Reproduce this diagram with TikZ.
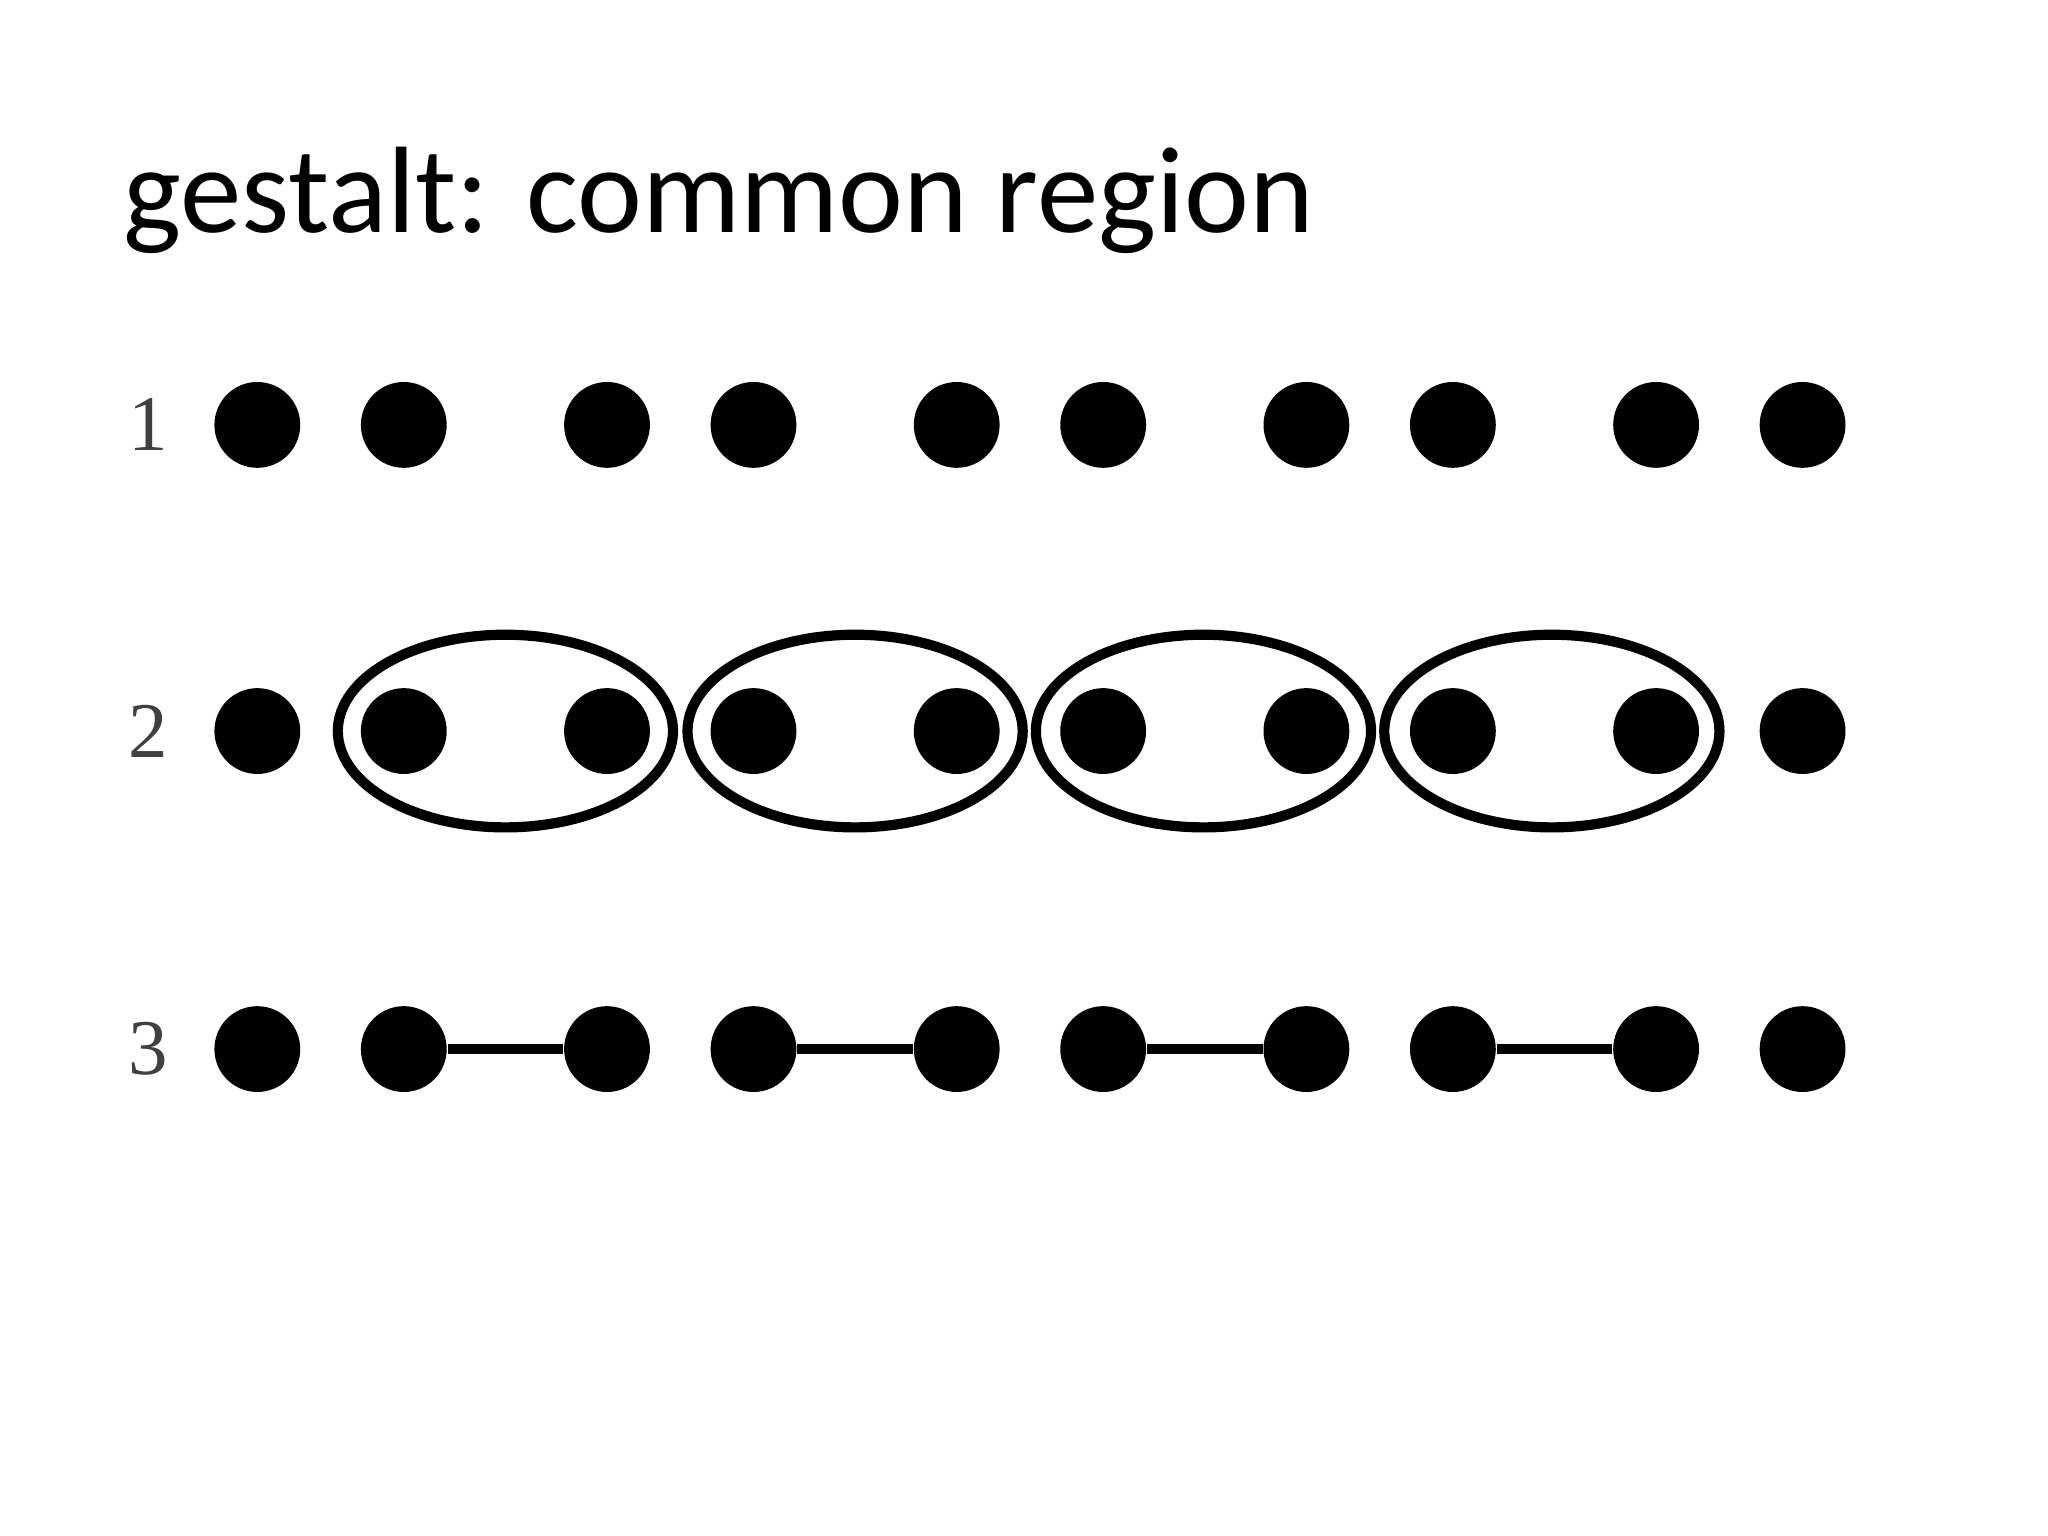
\documentclass[tikz,border=0pt]{standalone}
\usepackage{fontspec}
\setmainfont{Carlito}
\newfontfamily\numfont{Liberation Serif}
\begin{document}
\begin{tikzpicture}[x=0.01cm,y=-0.01cm,
  dot/.style={circle,fill=black,minimum size=0.65cm,inner sep=0pt},
  lbl/.style={font=\numfont\fontsize{17}{19}\selectfont,text=black!75},
  ring/.style={draw=black,line width=2.2pt}]
\useasboundingbox (0,0) rectangle (1552,1164);
\node[anchor=base west,font=\fontsize{26.5}{30}\selectfont,inner sep=0pt] (title) at (93,176) {gestalt: common region};
\foreach \r/\y in {1/322,2/554,3/795}{
  \node[lbl] (L\r) at (112,\y) {\r};
  \foreach \i/\x in {1/195,2/306,3/460,4/571,5/725,6/836,7/990,8/1101,9/1255,10/1366}
    \node[dot] (d\r-\i) at (\x,\y) {};
}
\foreach \c/\n in {383/1,648/2,912/3,1176/4}
  \draw[ring] (\c,554) ellipse [x radius=127,y radius=73];
\foreach \a/\b in {2/3,4/5,6/7,8/9}
  \draw[line width=2pt] (d3-\a) -- (d3-\b);
\end{tikzpicture}
\end{document}
